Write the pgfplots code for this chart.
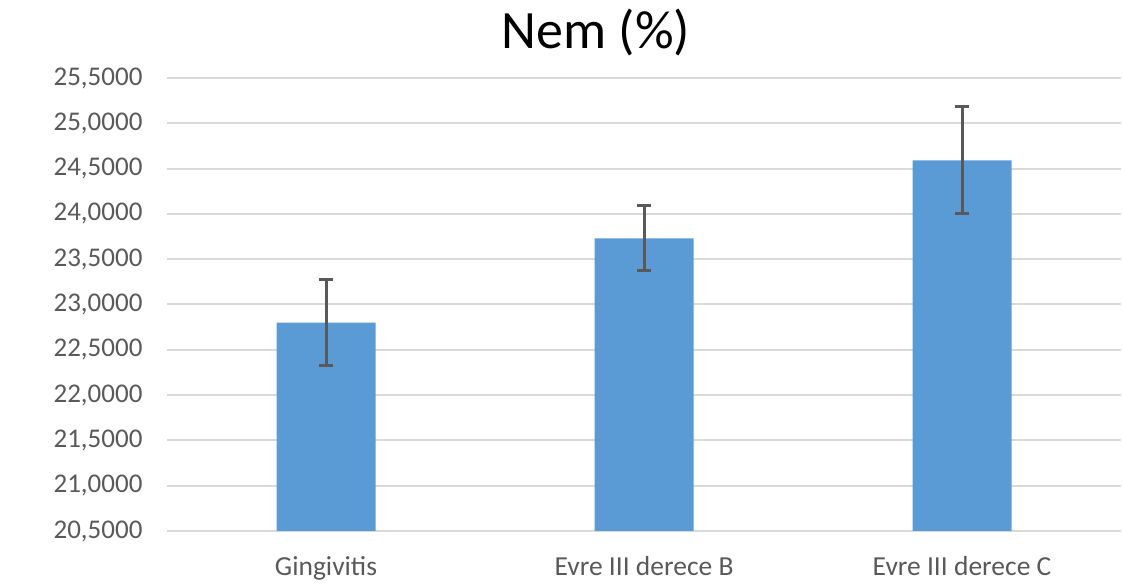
\documentclass[border=0pt]{standalone}
\usepackage{pgfplots}
\pgfplotsset{compat=1.18}
\usepackage{fontspec}
\setmainfont{Carlito}
\definecolor{barblue}{HTML}{5B9BD5}
\definecolor{gridgray}{HTML}{D9D9D9}
\definecolor{txtgray}{HTML}{595959}
\begin{document}
\begin{tikzpicture}
\begin{axis}[name=ax, scale only axis, width=954pt, height=453pt,
  xmin=-0.5, xmax=2.5, ymin=20.5, ymax=25.5,
  ytick={20.5,21,21.5,22,22.5,23,23.5,24,24.5,25,25.5},
  xtick={0,1,2},
  xticklabels={Gingivitis, Evre III derece B, Evre III derece C},
  axis line style={draw=none},
  major tick length=0pt,
  ymajorgrids, grid style={gridgray, line width=2pt},
  /pgf/number format/assume math mode=true,
  yticklabel style={/pgf/number format/.cd, fixed, fixed zerofill, precision=4, use comma, /tikz/.cd,
    font=\fontsize{27}{32}\selectfont, text=txtgray, xshift=-21pt},
  xticklabel style={font=\fontsize{27.5}{32}\selectfont, text=txtgray, yshift=-22pt},
  ybar, bar width=99pt,
]
\addplot[fill=barblue, draw=none,
  error bars/.cd, y dir=both, y explicit,
  error bar style={line width=3pt, txtgray},
  error mark options={rotate=90, mark size=7pt, line width=3pt, txtgray}]
  coordinates {(0,22.80) +- (0,0.475) (1,23.73) +- (0,0.36) (2,24.59) +- (0,0.59)};
\end{axis}
\node[font=\fontsize{54}{60}\selectfont, text=black] at ([shift={(429pt,46pt)}]ax.north west) {Nem (\%)};
\pgfresetboundingbox
\path ([shift={(-167pt,-57pt)}]ax.south west) rectangle ([shift={(2pt,78pt)}]ax.north east);
\end{tikzpicture}
\end{document}
